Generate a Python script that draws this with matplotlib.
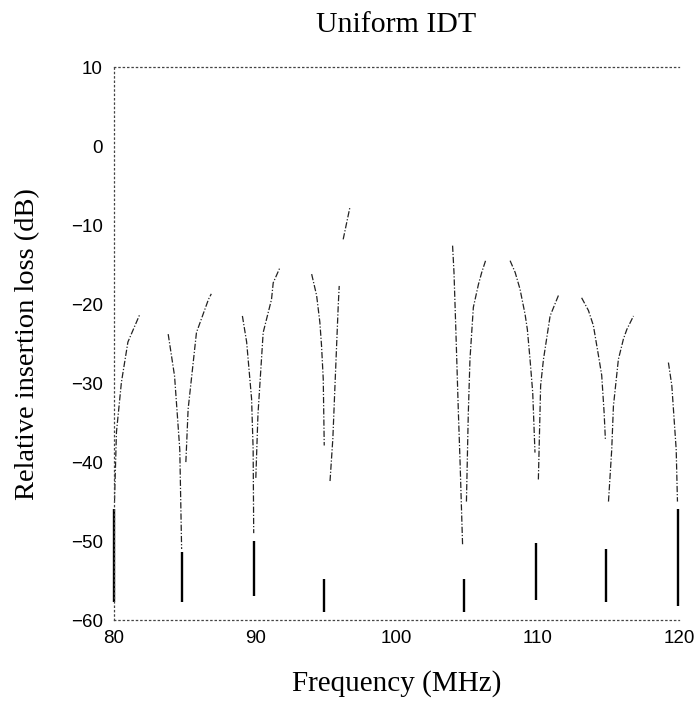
import numpy as np
import matplotlib
matplotlib.use("Agg")
import matplotlib.pyplot as plt

nan = np.nan

# frequency (MHz) / relative insertion loss (dB);
# NaN marks the gaps where the scan dropped the trace
freq_mhz = [
    80.05, 80.19, 80.54, 81.0, 81.84, nan,
    83.85, 84.3, 84.67, 84.8, nan,
    85.1, 85.26, 85.85, 86.7, 86.9, nan,
    89.1, 89.4, 89.75, 89.86, 89.9, nan,
    90.05, 90.2, 90.57, 91.16, 91.28, 91.75, nan,
    94.0, 94.35, 94.58, 94.7, 94.82, 94.89, nan,
    95.3, 95.5, 95.65, 95.88, 95.95, nan,
    96.23, 96.7, nan,
    103.97, 104.07, 104.2, 104.38, 104.5, 104.68, nan,
    104.95, 105.08, 105.2, 105.44, 105.8, 106.03, 106.34, nan,
    108.04, 108.4, 108.74, 109.1, 109.26, 109.45, 109.64, 109.8, nan,
    110.04, 110.2, 110.4, 110.87, 111.46, nan,
    113.1, 113.58, 113.93, 114.29, 114.52, 114.69, 114.78, nan,
    115.0, 115.23, 115.35, 115.7, 116.06, 116.3, 116.77, nan,
    119.24, 119.48, 119.79, 119.88,
]
loss_db = [
    -45.0, -36.2, -29.9, -24.8, -21.3, nan,
    -23.8, -29.1, -38.4, -51.0, nan,
    -40.0, -33.3, -23.6, -19.4, -18.7, nan,
    -21.5, -24.8, -32.0, -38.4, -49.0, nan,
    -42.0, -34.0, -23.6, -19.4, -17.3, -15.4, nan,
    -16.2, -18.9, -22.3, -25.3, -29.5, -37.9, nan,
    -42.4, -37.0, -30.3, -20.2, -17.7, nan,
    -11.8, -7.8, nan,
    -12.6, -16.0, -23.2, -33.7, -40.0, -50.6, nan,
    -45.0, -34.0, -27.0, -20.4, -17.5, -16.0, -14.3, nan,
    -14.5, -16.0, -18.1, -21.3, -23.2, -27.0, -31.2, -38.8, nan,
    -42.2, -30.3, -27.0, -21.5, -18.9, nan,
    -19.2, -20.8, -22.7, -26.5, -29.0, -33.7, -37.1, nan,
    -45.0, -38.4, -32.9, -27.0, -24.4, -23.2, -21.5, nan,
    -27.4, -30.3, -38.4, -45.0,
]

# dense dark strokes at the bottom of each null
null_freq = [80.0, 84.8, 89.9, 94.89, 104.8, 109.85, 114.83, 119.9]
null_top = [-46.0, -51.4, -50.0, -54.8, -54.8, -50.2, -51.0, -46.0]
null_bottom = [-57.7, -57.7, -57.0, -59.0, -59.0, -57.5, -57.7, -58.2]

x_ticks = [80, 90, 100, 110, 120]
y_ticks = [10, 0, -10, -20, -30, -40, -50, -60]

fig = plt.figure(figsize=(6.98, 7.07), dpi=100)
ax = fig.add_axes([0.163, 0.123, 0.810, 0.782])

ax.plot(freq_mhz, loss_db, color="#222222", lw=0.9,
        linestyle=(0, (5, 1.5, 1, 1.5)))
ax.vlines(null_freq, null_bottom, null_top, color="black", lw=1.7,
          clip_on=False)

ax.set_xlim(80, 120)
ax.set_ylim(-60, 10)
ax.set_xticks(x_ticks)
ax.set_yticks(y_ticks)
ax.tick_params(length=0, labelsize=13.5)
ax.tick_params(axis="x", pad=7)
ax.tick_params(axis="y", pad=8)
for lab in ax.get_xticklabels() + ax.get_yticklabels():
    lab.set_family("Liberation Sans")

for side in ("top", "left", "bottom"):
    ax.spines[side].set_linestyle((0, (1, 2.5)))
    ax.spines[side].set_linewidth(0.9)
    ax.spines[side].set_color("#444444")
ax.spines["right"].set_visible(False)

serif = "Liberation Serif"
ax.set_title("Uniform IDT", family=serif, fontsize=21.5, pad=25)
ax.set_xlabel("Frequency (MHz)", family=serif, fontsize=21, labelpad=17)
ax.set_ylabel("Relative insertion loss (dB)", family=serif, fontsize=20.5,
              labelpad=22)

fig.savefig("out.png", dpi=100)
